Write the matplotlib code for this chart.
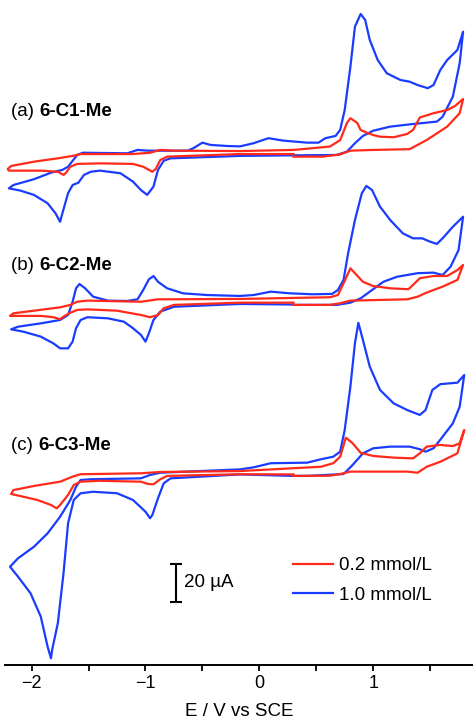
import matplotlib
matplotlib.use("Agg")
import matplotlib.pyplot as plt
from matplotlib.lines import Line2D

plt.rcParams['font.family'] = ['Liberation Sans', 'DejaVu Sans']

# ---------------- data (E in V vs SCE, I in uA relative to panel baseline) ----------------
# Panel (a) 6-C1-Me, 0.2 mmol/L
a_red_E = [0.30, -0.17, -0.81, -0.87, -0.91, -0.94, -1.02, -1.11, -1.40, -1.60, -1.66, -1.70, -1.72, -1.77, -1.92, -2.10, -2.20, -2.21,
           -2.18, -1.98, -1.77, -1.63, -1.57, -1.11, -0.96, -0.87, -0.75, -0.17, 0.30, 0.62, 0.71, 0.77, 0.80, 0.86, 0.89, 0.95, 1.00, 1.06,
           1.18, 1.30, 1.35, 1.41, 1.53, 1.65, 1.72, 1.78, 1.79,
           1.76, 1.65, 1.47, 1.32, 1.00, 0.80, 0.71, 0.56, 0.30]
a_red_I = [0.5, 0.5, -0.9, -2.7, -7.5, -9.0, -6.3, -4.8, -4.5, -4.8, -6.3, -9.7, -10.7, -9.0, -8.4, -8.4, -8.4, -7.5,
           -5.9, -3.6, -1.8, -0.4, 0.5, 0.5, 1.2, 2.7, 2.3, 2.1, 2.7, 4.5, 8.0, 17.2, 19.7, 17.2, 13.4, 11.8, 10.7, 9.8,
           9.5, 11.3, 13.4, 20.1, 22.4, 24.1, 26.3, 29.5, 30.0,
           22.4, 15.2, 8.0, 3.1, 2.7, 2.3, 0.3, -0.9, -0.9]
# Panel (a) 6-C1-Me, 1.0 mmol/L
a_blue_E = [0.30, -0.17, -0.78, -0.84, -0.89, -0.93, -0.985, -1.04, -1.11, -1.22, -1.40, -1.48, -1.54, -1.59, -1.64, -1.68, -1.73, -1.75,
            -1.79, -1.86, -1.98, -2.10, -2.20,
            -2.16, -1.98, -1.83, -1.73, -1.68, -1.60, -1.55, -1.16, -1.07, -0.98, -0.63, -0.58, -0.50, -0.43, -0.28, -0.17, -0.05, 0.08,
            0.21, 0.42, 0.52, 0.58, 0.67, 0.71, 0.75, 0.80, 0.84, 0.89, 0.93, 0.97, 1.04, 1.12, 1.24, 1.32, 1.39, 1.48, 1.53, 1.59, 1.65,
            1.74, 1.79,
            1.76, 1.70, 1.61, 1.56, 1.35, 1.15, 1.00, 0.91, 0.84, 0.77, 0.68, 0.30]
a_blue_I = [-0.2, -0.5, -1.8, -3.1, -8.0, -17.0, -21.4, -18.8, -14.3, -9.8, -8.4, -9.0, -10.7, -14.9, -16.1, -20.5, -31.3, -35.8,
            -31.3, -25.9, -21.4, -19.1, -17.9,
            -16.1, -13.0, -9.5, -8.0, -6.3, 0.0, 1.2, 0.9, 2.7, 2.3, 2.3, 3.6, 6.6, 5.4, 4.8, 4.6, 6.3, 9.0,
            7.7, 6.6, 6.6, 9.0, 10.2, 13.4, 24.1, 47.3, 68.8, 75.6, 72.4, 61.7, 50.9, 43.8, 40.2, 39.3, 37.5, 35.8, 37.5, 45.6, 50.9,
            56.3, 66.1,
            49.2, 31.3, 20.5, 17.9, 16.6, 15.2, 13.0, 10.2, 6.3, 1.8, 0.0, -0.2]

# Panel (b) 6-C2-Me, 0.2 mmol/L
b_red_E = [0.30, -0.17, -0.75, -0.84, -0.89, -0.96, -1.04, -1.25, -1.51, -1.60, -1.66, -1.72, -1.75, -1.81, -1.92, -2.10, -2.19,
           -2.16, -1.98, -1.75, -1.66, -1.60, -1.51, -1.04, -0.89, -0.81, -0.17, 0.62, 0.69, 0.74, 0.80, 0.84, 0.91, 1.00, 1.15, 1.31,
           1.35, 1.41, 1.53, 1.65, 1.74, 1.79,
           1.74, 1.61, 1.47, 1.39, 1.30, 0.80, 0.71, 0.62, 0.30]
b_red_I = [-0.9, -0.9, -2.1, -3.9, -7.5, -8.7, -7.5, -5.2, -4.5, -4.8, -6.3, -8.4, -9.8, -8.7, -8.0, -8.0, -8.0,
           -6.6, -5.2, -3.4, -2.1, -0.4, 0.2, -0.4, 0.9, 0.9, 1.1, 2.0, 3.2, 9.5, 17.5, 14.9, 10.3, 8.0, 6.8, 6.3,
           8.6, 12.2, 13.4, 13.4, 16.6, 19.3,
           11.3, 7.7, 4.5, 2.3, 0.9, 0.2, -1.2, -2.1, -2.1]
# Panel (b) 6-C2-Me, 1.0 mmol/L
b_blue_E = [0.30, -0.17, -0.75, -0.87, -0.93, -0.97, -1.00, -1.04, -1.11, -1.19, -1.33, -1.51, -1.57, -1.61, -1.64, -1.68, -1.75,
            -1.81, -1.92, -2.07, -2.18,
            -2.12, -1.92, -1.75, -1.68, -1.64, -1.61, -1.58, -1.53, -1.46, -1.33, -1.16, -1.07, -1.02, -0.97, -0.93, -0.89, -0.81,
            -0.67, -0.46, -0.17, -0.05, 0.10, 0.27, 0.47, 0.64, 0.69, 0.74, 0.78, 0.84, 0.90, 0.94, 0.99, 1.06, 1.15, 1.26, 1.35,
            1.43, 1.50, 1.56, 1.61, 1.70, 1.79,
            1.75, 1.68, 1.61, 1.53, 1.39, 1.21, 1.09, 0.97, 0.89, 0.80, 0.68, 0.30]
b_blue_I = [-1.9, -1.6, -3.1, -5.7, -10.2, -17.3, -21.8, -18.2, -14.6, -11.1, -9.3, -8.7, -10.2, -14.6, -21.8, -25.4, -25.4,
            -22.7, -19.1, -16.5, -15.2,
            -13.8, -12.0, -10.2, -7.5, -0.4, 6.8, 9.1, 6.8, 2.3, 0.2, 0.0, 0.9, 5.9, 11.6, 13.4, 10.3, 6.8,
            4.1, 3.2, 2.7, 3.2, 5.0, 4.1, 3.6, 3.8, 5.9, 11.3, 25.6, 43.4, 57.7, 61.7, 59.5, 50.6, 43.4, 36.3, 33.6,
            33.6, 31.8, 30.6, 33.6, 39.8, 45.2,
            27.3, 18.4, 13.9, 15.2, 14.9, 13.0, 10.3, 5.0, 1.4, -0.9, -2.1, -2.1]

# Panel (c) 6-C3-Me, 0.2 mmol/L
c_red_E = [0.30, -0.17, -0.81, -0.87, -0.93, -0.98, -1.04, -1.40, -1.57, -1.63, -1.68, -1.75, -1.78, -1.83, -1.95, -2.10, -2.18,
           -2.16, -1.98, -1.75, -1.64, -1.57, -1.04, -0.87, -0.17, 0.54, 0.65, 0.71, 0.76, 0.82, 0.89, 1.00, 1.18, 1.35, 1.41, 1.47,
           1.59, 1.70, 1.76, 1.80,
           1.74, 1.59, 1.47, 1.39, 1.30, 0.80, 0.71, 0.62, 0.30]
c_red_I = [-1.3, -1.2, -2.1, -3.9, -6.6, -6.4, -5.2, -4.7, -5.2, -7.0, -12.3, -17.7, -19.5, -17.7, -15.0, -12.9, -11.8,
           -9.7, -7.5, -5.2, -2.5, -1.2, -0.7, 0.0, 0.5, 2.8, 4.7, 8.2, 18.4, 15.4, 10.3, 8.6, 7.7, 7.3, 10.0, 13.6,
           14.5, 13.9, 15.4, 22.5,
           10.0, 5.5, 2.8, -0.4, 0.2, 0.2, -1.1, -2.0, -2.1]
# Panel (c) 6-C3-Me, 1.0 mmol/L
c_blue_E = [0.30, -0.17, -0.78, -0.84, -0.89, -0.94, -0.96, -1.00, -1.11, -1.25, -1.46, -1.57, -1.63, -1.68, -1.72, -1.77, -1.82,
            -1.83, -1.86, -1.92, -2.01, -2.12, -2.19,
            -2.12, -1.98, -1.86, -1.75, -1.66, -1.61, -1.57, -1.48, -1.04, -0.96, -0.87, -0.17, -0.05, 0.10, 0.42, 0.54, 0.65, 0.71,
            0.75, 0.80, 0.84, 0.87, 0.91, 0.97, 1.06, 1.18, 1.30, 1.41, 1.46, 1.52, 1.59, 1.74, 1.80,
            1.76, 1.70, 1.61, 1.53, 1.46, 1.41, 1.32, 1.15, 1.00, 0.91, 0.82, 0.74, 0.42, 0.30]
c_blue_I = [-2.1, -1.3, -3.4, -6.1, -14.1, -23.1, -24.8, -21.3, -15.0, -11.4, -10.6, -11.4, -15.0, -27.5, -54.3, -81.1, -95.4,
            -99.9, -93.6, -77.5, -65.0, -56.1, -50.8,
            -46.3, -40.1, -32.9, -24.0, -15.0, -7.9, -4.3, -3.9, -3.4, -1.6, -0.4, 1.4, 2.5, 4.7, 5.0, 6.8, 8.2, 10.9,
            22.5, 45.8, 69.1, 80.0, 70.8, 56.5, 44.0, 36.8, 33.2, 30.6, 33.2, 44.0, 47.1, 47.9, 52.0,
            35.0, 26.1, 18.9, 12.7, 10.9, 12.2, 13.6, 13.6, 12.7, 10.0, 3.8, -1.1, -2.1, -2.1]

panel_labels = ["(a) ", "(b) ", "(c) "]
compound_names = ["6-C1-Me", "6-C2-Me", "6-C3-Me"]
legend_labels = ["0.2 mmol/L", "1.0 mmol/L"]
x_ticks = [-2, -1, 0, 1]
x_tick_labels = ['\u22122', '\u22121', '0', '1']
x_minor = [-1.5, -0.5, 0.5, 1.5]
scale_bar_uA = 20

# ---------------- layout / style ----------------
RED = '#ff2a1a'
BLUE = '#1a3cff'
LW = 1.6
FS = 13.5
panel_offsets = [273.5, 195.2, 103.5]   # vertical stacking of panels (uA)

fig = plt.figure(figsize=(4.73, 7.20), dpi=100)
ax = fig.add_axes([5 / 473, 55 / 720, 468 / 473, 665 / 720])

panels = [(a_red_E, a_red_I, a_blue_E, a_blue_I),
          (b_red_E, b_red_I, b_blue_E, b_blue_I),
          (c_red_E, c_red_I, c_blue_E, c_blue_I)]

for (rE, rI, bE, bI), off in zip(panels, panel_offsets):
    ax.plot(bE, [v + off for v in bI], color=BLUE, lw=LW, solid_joinstyle='round')
    ax.plot(rE, [v + off for v in rI], color=RED, lw=LW, solid_joinstyle='round')

ax.set_xlim(-2.234, 1.877)
ax.set_ylim(0, 356.6)

for s in ['left', 'right', 'top']:
    ax.spines[s].set_visible(False)
ax.spines['bottom'].set_linewidth(1.4)
ax.set_yticks([])
ax.set_xticks(x_ticks)
ax.set_xticklabels(x_tick_labels)
ax.set_xticks(x_minor, minor=True)
ax.tick_params(axis='x', which='both', direction='out', length=4, width=1.3, labelsize=13, pad=3)
ax.set_xlabel('E / V vs SCE', fontsize=FS, labelpad=8)

# panel labels
label_y = [112, 265, 446]
fig.canvas.draw()
for lab, name, yp in zip(panel_labels, compound_names, label_y):
    t = fig.text(11 / 473, 1 - yp / 720, lab, fontsize=FS, va='center', ha='left')
    fig.canvas.draw()
    bb = t.get_window_extent()
    fig.text(bb.x1 / 473, 1 - yp / 720, name, fontsize=FS, fontweight='bold', va='center', ha='left')

# scale bar (20 uA)
y_top_sb = (665 - 564.3) / 1.865
x_sb = -2 + (176 - 31.7) / 114
ax.errorbar([x_sb], [y_top_sb - scale_bar_uA / 2], yerr=[scale_bar_uA / 2], color='black',
            capsize=4, capthick=1.5, elinewidth=1.5, fmt='none')
ax.text(x_sb + 0.075, y_top_sb - scale_bar_uA / 2, f'{scale_bar_uA} \u00b5A', fontsize=FS, va='center', ha='left')

# legend
handles = [Line2D([], [], color=RED, lw=LW), Line2D([], [], color=BLUE, lw=LW)]
fig.legend(handles, legend_labels, loc='upper left', bbox_to_anchor=(293 / 473, 1 - 557 / 720),
           frameon=False, fontsize=FS, handlelength=2.13, handletextpad=0.32, labelspacing=0.66,
           borderaxespad=0, borderpad=0)

fig.savefig('out.png', dpi=100)
